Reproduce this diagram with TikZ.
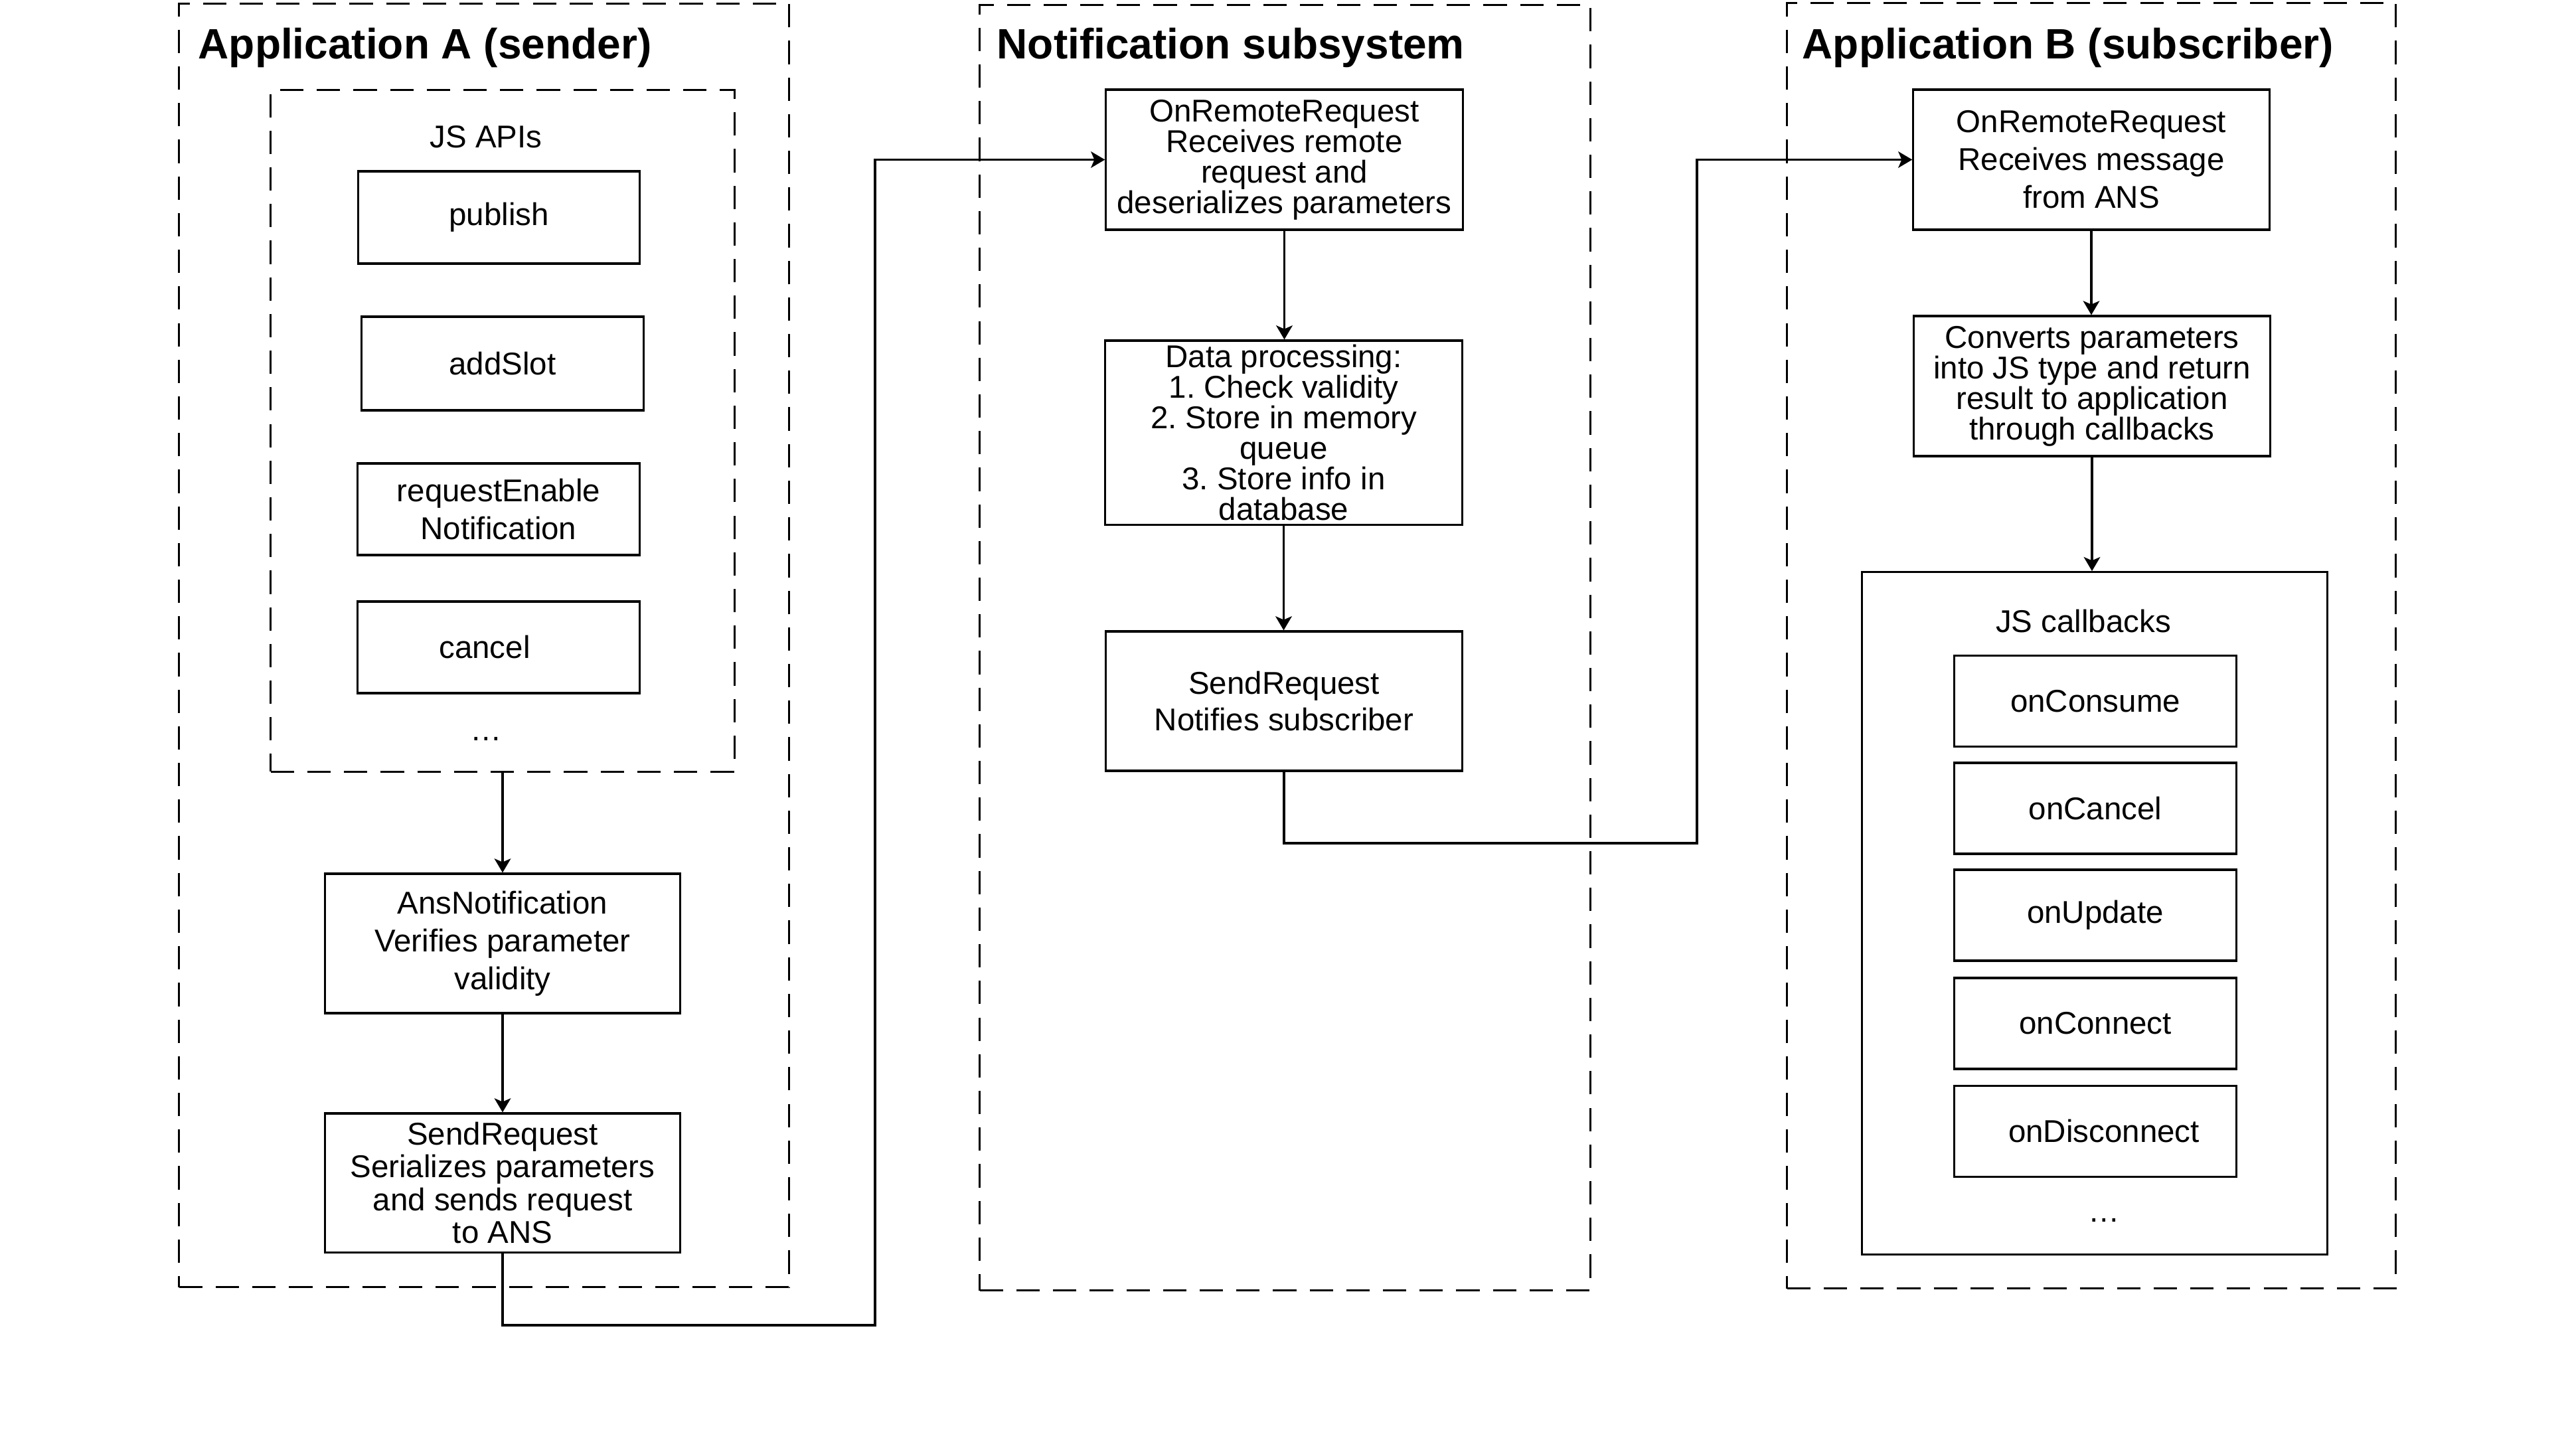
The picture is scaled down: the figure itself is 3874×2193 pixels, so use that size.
\documentclass[tikz,border=0pt]{standalone}
\usepackage{fontspec}
\setmainfont{Liberation Sans}
\usetikzlibrary{arrows.meta}
\frenchspacing
\begin{document}
\begin{tikzpicture}[x=0.01cm,y=-0.01cm,
  box/.style={draw, line width=0.9pt, inner sep=0pt, align=center, font=\fontsize{13.5}{#1}\selectfont},
  box/.default={16.2},
  grp/.style={draw, dash pattern=on 10pt off 5.7pt, line width=0.9pt, inner sep=0pt},
  ttl/.style={anchor=base west, inner sep=0pt, font=\fontsize{18.2}{22}\selectfont\bfseries},
  lbl/.style={anchor=base, inner sep=0pt, font=\fontsize{13.5}{16}\selectfont},
  arr/.style={-{Stealth[length=6pt,width=7pt,inset=1.5pt]}, line width=0.9pt},
  apibox/.style={box, minimum width=4.24cm, minimum height=1.39cm},
  cbbox/.style={box, minimum width=4.24cm, minimum height=1.37cm}]
\useasboundingbox (0,0) rectangle (3874,2193);

% groups
\node[grp, minimum width=9.18cm, minimum height=19.32cm] (ga) at (729,972) {};
\node[grp, minimum width=9.19cm, minimum height=19.35cm] (gn) at (1935.5,975.5) {};
\node[grp, minimum width=9.16cm, minimum height=19.35cm] (gb) at (3150,972.5) {};
\node[ttl] (ta) at (298,88) {Application A (sender)};
\node[ttl] (tn) at (1501,88) {Notification subsystem};
\node[ttl] (tb) at (2714,88) {Application B (subscriber)};

% Application A
\node[grp, minimum width=6.98cm, minimum height=10.26cm] (jsapi) at (757,649) {};
\node[lbl] (jslbl) at (732,222) {JS APIs};
\node[apibox] (publish) at (751.5,327.5) {publish};
\node[apibox, minimum height=1.41cm] (addslot) at (757,547.5) {addSlot};
\node[apibox, minimum height=1.38cm] (reqen) at (751,767) {requestEnable\\Notification};
\node[apibox, minimum height=1.38cm] (cancel) at (751,975) {cancel\hspace{0.42cm}};
\node[lbl] (dotsa) at (732,1115) {\ldots};
\node[box, minimum width=5.34cm, minimum height=2.10cm] (ans) at (757,1421) {AnsNotification\\Verifies parameter\\validity};
\node[box=14, minimum width=5.34cm, minimum height=2.09cm] (senda) at (757,1781.5) {SendRequest\\Serializes parameters\\and sends request\\to ANS};

% Notification subsystem
\node[box=13.1, minimum width=5.37cm, minimum height=2.11cm] (onrn) at (1934.5,240.5) {OnRemoteRequest\\Receives remote\\request and\\deserializes parameters};
\node[box=13.1, minimum width=5.37cm, minimum height=2.77cm] (data) at (1933.5,651.5) {Data processing:\\1. Check validity\\2. Store in memory\\queue\\3. Store info in\\database};
\node[box=15.6, minimum width=5.36cm, minimum height=2.10cm] (sendn) at (1934,1056) {SendRequest\\Notifies subscriber};

% Application B
\node[box, minimum width=5.36cm, minimum height=2.11cm] (onrb) at (3150,240.5) {OnRemoteRequest\\Receives message\\from ANS};
\node[box=13.1, minimum width=5.36cm, minimum height=2.11cm] (conv) at (3151,581.5) {Converts parameters\\into JS type and return\\result to application\\through callbacks};
\node[draw, line width=0.9pt, inner sep=0pt, minimum width=7.0cm, minimum height=10.27cm] (cb) at (3155,1375.5) {};
\node[lbl] (cblbl) at (3138,952) {JS callbacks};
\node[cbbox] (oncons) at (3156,1056) {onConsume};
\node[cbbox] (oncanc) at (3156,1217.5) {onCancel};
\node[cbbox] (onupd) at (3156,1378.5) {onUpdate};
\node[cbbox] (onconn) at (3156,1541.5) {onConnect};
\node[cbbox] (ondisc) at (3156,1704) {\hspace{0.26cm}onDisconnect};
\node[lbl] (dotsb) at (3169,1840) {\ldots};

% connectors
\coordinate (c1) at (1318,1996);
\coordinate (c2) at (2556,1270);
\draw[arr] (jsapi.south) -- (jsapi.south |- ans.north);
\draw[arr] (ans.south) -- (senda.north);
\draw[arr] (senda.south) |- (c1) |- (onrn.west);
\draw[arr] (onrn.south) -- (onrn.south |- data.north);
\draw[arr] (data.south) -- (data.south |- sendn.north);
\draw[arr] (sendn.south) |- (c2) |- (onrb.west);
\draw[arr] (onrb.south) -- (onrb.south |- conv.north);
\draw[arr] (conv.south) -- (conv.south |- cb.north);
\end{tikzpicture}
\end{document}
